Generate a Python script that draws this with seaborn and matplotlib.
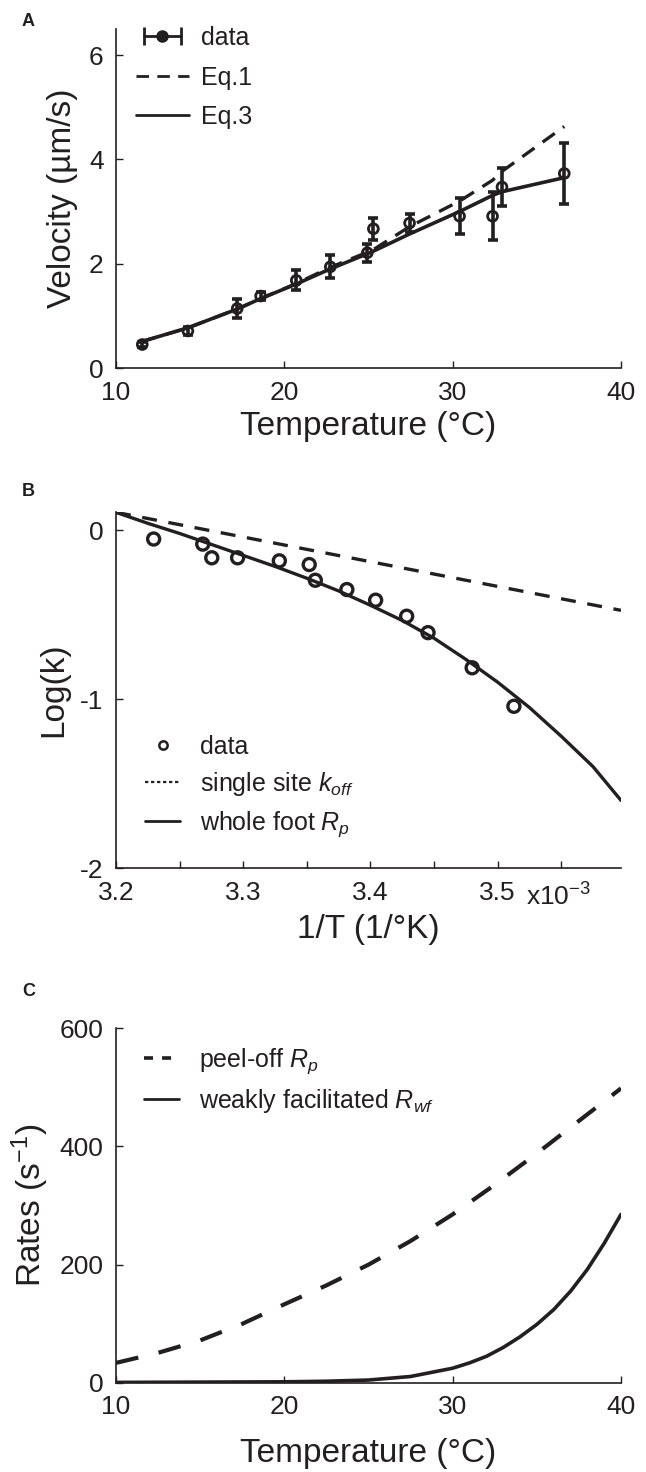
import matplotlib
matplotlib.use('Agg')
import matplotlib.pyplot as plt
from matplotlib.lines import Line2D
from matplotlib.legend_handler import HandlerLine2D, HandlerTuple
from matplotlib.ticker import FixedLocator
import seaborn as sns

# Panel A: velocity vs temperature
temp_a = [11.56, 14.27, 17.2, 18.59, 20.71, 22.73, 24.93, 25.29, 27.44, 30.41, 32.37, 32.93, 36.63]
vel_a = [0.45, 0.71, 1.14, 1.38, 1.68, 1.94, 2.21, 2.67, 2.78, 2.91, 2.91, 3.47, 3.73]
err_a = [0.05, 0.08, 0.19, 0.08, 0.19, 0.22, 0.17, 0.21, 0.17, 0.35, 0.46, 0.37, 0.59]
eq1_a = [0.51, 0.77, 1.13, 1.33, 1.62, 1.93, 2.22, 2.27, 2.71, 3.2, 3.6, 3.77, 4.63]
eq3_a = [0.51, 0.77, 1.13, 1.33, 1.61, 1.90, 2.19, 2.24, 2.57, 3.0, 3.31, 3.38, 3.65]

# Panel B: Arrhenius plot (x in units of 1e-3 1/K)
invT_b = [3.2296, 3.2682, 3.2753, 3.2956, 3.3284, 3.3519, 3.3567, 3.3815, 3.4041, 3.4285, 3.4453, 3.48, 3.5128]
logk_b = [-0.053, -0.083, -0.164, -0.164, -0.182, -0.204, -0.297, -0.352, -0.415, -0.51, -0.607, -0.815, -1.043]
invT_fit = [3.2, 3.225, 3.25, 3.275, 3.3, 3.325, 3.35, 3.375, 3.4, 3.425, 3.45,
            3.475, 3.5, 3.525, 3.55, 3.575, 3.597]
whole_foot = [0.105, 0.04, -0.02, -0.085, -0.15, -0.215, -0.285, -0.36, -0.445, -0.535, -0.64,
              -0.765, -0.90, -1.05, -1.22, -1.40, -1.60]
invT_site = [3.2, 3.597]
single_site = [0.105, -0.475]

# Panel C: rates vs temperature
temp_c = [10, 12.5, 15, 17.5, 20, 22.5, 25, 27.5, 30, 32.5, 35, 37.5, 40]
peel_off = [34, 51, 72, 100, 133, 165, 200, 240, 285, 335, 388, 443, 498]
temp_wf = [10, 15, 20, 22.5, 25, 27.5, 30, 31, 32, 33, 34, 35, 36, 37, 38, 39, 40]
weak_fac = [1, 1.5, 2, 3, 5, 11, 25, 34, 45, 60, 78, 99, 124, 155, 192, 236, 285]

sns.set_theme(style='ticks')
plt.rcParams['font.family'] = ['Liberation Sans', 'DejaVu Sans']
plt.rcParams['mathtext.fontset'] = 'custom'
plt.rcParams['mathtext.rm'] = 'Liberation Sans'
plt.rcParams['mathtext.it'] = 'Liberation Sans:italic'
plt.rcParams['mathtext.bf'] = 'Liberation Sans:bold'

k = '#231f20'
W, H = 646, 1472
fig = plt.figure(figsize=(W / 100, H / 100), dpi=100)


def make_axes(top, bottom, left=116, right=621):
    return fig.add_axes([left / W, 1 - bottom / H, (right - left) / W, (bottom - top) / H])


def style(ax):
    sns.despine(ax=ax)
    for s in ['left', 'bottom']:
        ax.spines[s].set_linewidth(1.2)
        ax.spines[s].set_color(k)
    ax.tick_params(direction='in', length=5, width=1, colors=k, labelsize=19, pad=9)
    ax.tick_params(which='minor', direction='in', length=5, width=1, colors=k)


# ---- A
ax = make_axes(29, 368)
ax.errorbar(temp_a, vel_a, yerr=err_a, fmt='none', ecolor=k, elinewidth=2.6, capsize=3.5, capthick=2.6, zorder=2)
sns.lineplot(x=temp_a, y=eq1_a, ax=ax, color=k, lw=2.4, linestyle=(0, (4.5, 3)), zorder=3)
sns.lineplot(x=temp_a, y=eq3_a, ax=ax, color=k, lw=2.6, zorder=4)
sns.scatterplot(x=temp_a, y=vel_a, ax=ax, marker='o', s=50, facecolor='none', edgecolor=k, linewidth=2, zorder=5)
ax.set_xlim(10, 40)
ax.set_ylim(0, 6.5)
ax.set_xticks([10, 20, 30, 40])
ax.set_yticks([0, 2, 4, 6])
ax.set_xlabel('Temperature (°C)', fontsize=24, color=k, labelpad=5)
ax.set_ylabel('Velocity (µm/s)', fontsize=24, color=k, labelpad=8)
style(ax)
bar_h = Line2D([], [], color=k, lw=2, marker='|', markersize=13, markeredgewidth=2)
dot_h = Line2D([], [], color=k, marker='o', markersize=8, linestyle='none')
h1 = Line2D([], [], color=k, lw=2, linestyle=(0, (4.5, 3)))
h3 = Line2D([], [], color=k, lw=2)
ax.legend([(bar_h, dot_h), h1, h3], ['data', 'Eq.1', 'Eq.3'],
          handler_map={bar_h: HandlerLine2D(numpoints=2), dot_h: HandlerLine2D(numpoints=1),
                       tuple: HandlerTuple(ndivide=1)},
          loc='upper left', bbox_to_anchor=(0.015, 1.045), frameon=False, fontsize=18,
          handlelength=2.1, handletextpad=0.5, labelspacing=0.62, borderpad=0, labelcolor=k)
fig.text(22 / W, 1 - 22 / H, 'A', fontsize=13, fontweight='bold', color=k, va='center')

# ---- B
ax = make_axes(512, 868)
sns.lineplot(x=invT_site, y=single_site, ax=ax, color=k, lw=2.4, linestyle=(0, (4.5, 3.5)), zorder=3)
sns.lineplot(x=invT_fit, y=whole_foot, ax=ax, color=k, lw=2.4, zorder=4)
sns.scatterplot(x=invT_b, y=logk_b, ax=ax, marker='o', s=75, facecolor='none', edgecolor=k, linewidth=2.4, zorder=5)
ax.set_xlim(3.2, 3.597)
ax.set_ylim(-2, 0.107)
ax.xaxis.set_major_locator(FixedLocator([3.2, 3.3, 3.4, 3.5]))
ax.xaxis.set_minor_locator(FixedLocator([3.25, 3.35, 3.45, 3.55]))
ax.set_xticklabels(['3.2', '3.3', '3.4', '3.5'])
ax.set_yticks([0, -1, -2])
ax.set_yticklabels(['0', '-1', '-2'])
ax.set_xlabel('1/T (1/°K)', fontsize=24, color=k, labelpad=7)
ax.set_ylabel('Log(k)', fontsize=24, color=k, labelpad=8)
style(ax)
ax.text(3.522, -0.042, 'x10$^{-3}$', transform=ax.get_xaxis_transform(), fontsize=19,
        color=k, va='top', ha='left')
hd = Line2D([], [], color=k, marker='o', markersize=6, markerfacecolor='none', markeredgewidth=1.8, linestyle='none')
hs = Line2D([], [], color=k, lw=1.6, linestyle=(0, (1.5, 1.2)))
hw = Line2D([], [], color=k, lw=2)
ax.legend([hd, hs, hw], ['data', 'single site $k_{off}$', 'whole foot $R_p$'],
          loc='upper left', bbox_to_anchor=(0.033, 0.41), frameon=False, fontsize=18,
          handlelength=1.4, handletextpad=0.8, labelspacing=0.45, borderpad=0, labelcolor=k)
fig.text(22 / W, 1 - 492 / H, 'B', fontsize=13, fontweight='bold', color=k, va='center')

# ---- C
ax = make_axes(1028, 1383)
sns.lineplot(x=temp_c, y=peel_off, ax=ax, color=k, lw=3, linestyle=(0, (5.5, 5)), zorder=3)
sns.lineplot(x=temp_wf, y=weak_fac, ax=ax, color=k, lw=2.6, zorder=4)
ax.set_xlim(10, 40)
ax.set_ylim(0, 600)
ax.set_xticks([10, 20, 30, 40])
ax.set_yticks([0, 200, 400, 600])
ax.set_xlabel('Temperature (°C)', fontsize=24, color=k, labelpad=13)
ax.set_ylabel('Rates (s$^{-1}$)', fontsize=24, color=k, labelpad=6)
style(ax)
hp = Line2D([], [], color=k, lw=2.6, linestyle=(0, (2.5, 2.5)))
hw = Line2D([], [], color=k, lw=2)
ax.legend([hp, hw], ['peel-off $R_p$', 'weakly facilitated $R_{wf}$'],
          loc='upper left', bbox_to_anchor=(0.03, 0.985), frameon=False, fontsize=18,
          handlelength=1.4, handletextpad=0.8, labelspacing=0.45, borderpad=0, labelcolor=k)
fig.text(22 / W, 1 - 992 / H, 'C', fontsize=13, fontweight='bold', color=k, va='center')

fig.savefig('out.png', dpi=100, facecolor='white')
